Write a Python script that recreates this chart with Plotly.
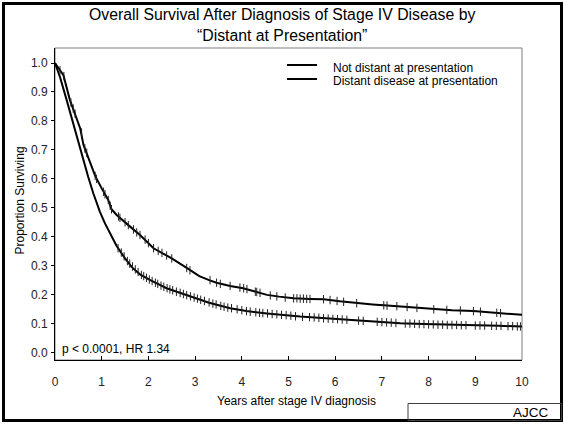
import plotly.graph_objects as go

# ---- Data ----
series_names = ["Not distant at presentation", "Distant disease at presentation"]

upper_t = [0, 0.18, 0.32, 0.39, 0.54, 0.61, 0.75, 0.86, 1.0, 1.14, 1.21, 1.32, 1.57, 1.82,
           2.11, 2.25, 2.5, 2.82, 3.09, 3.3, 3.46, 3.75, 4.03, 4.3, 4.54, 4.8, 5.11, 5.46,
           5.75, 6.1, 6.46, 6.8, 7.04, 7.3, 7.61, 7.9, 8.11, 8.5, 8.96, 9.2, 9.46, 9.75, 10]
upper_s = [1.0, 0.958, 0.872, 0.843, 0.774, 0.717, 0.653, 0.61, 0.567, 0.527, 0.495, 0.475,
           0.44, 0.406, 0.36, 0.348, 0.325, 0.292, 0.264, 0.25, 0.241, 0.23, 0.222, 0.21, 0.199,
           0.193, 0.187, 0.185, 0.184, 0.177, 0.17, 0.166, 0.163, 0.16, 0.156, 0.152, 0.149,
           0.146, 0.143, 0.14, 0.137, 0.133, 0.13]

lower_t = [0, 0.11, 0.25, 0.39, 0.5, 0.61, 0.71, 0.82, 0.96, 1.07, 1.21, 1.32, 1.5, 1.65,
           1.82, 2.04, 2.39, 2.7, 2.96, 3.3, 3.75, 4.1, 4.54, 4.9, 5.25, 5.8, 6.32, 6.9, 7.39,
           7.9, 8.46, 9.0, 9.5, 10]
lower_s = [1.0, 0.95, 0.872, 0.79, 0.723, 0.665, 0.607, 0.55, 0.487, 0.446, 0.4, 0.368, 0.325,
           0.294, 0.27, 0.25, 0.222, 0.205, 0.19, 0.172, 0.153, 0.143, 0.135, 0.129, 0.124,
           0.118, 0.112, 0.106, 0.101, 0.098, 0.095, 0.093, 0.092, 0.09]

# censored observations (+ marks)
upper_cens_t = [0.107, 0.19, 0.34, 0.39, 0.43, 0.57, 0.64, 0.68, 0.86, 0.89, 1.04, 1.07, 1.14,
                1.18, 1.21, 1.36, 1.39, 1.5, 1.57, 1.68, 1.75, 1.82, 1.93, 2.0, 2.11, 2.21,
                2.29, 2.39, 2.5, 2.82, 2.89, 3.32, 3.46, 3.54, 3.75, 3.96, 4.04, 4.11, 4.29,
                4.32, 4.39, 4.61, 4.75, 4.93, 5.11, 5.18, 5.25, 5.32, 5.39, 5.46, 5.75, 5.89,
                6.04, 6.18, 6.46, 7.04, 7.11, 7.32, 7.54, 7.75, 8.11, 8.39, 8.68, 8.96, 9.11,
                9.46, 9.54]
upper_cens_s = [0.975, 0.955, 0.864, 0.843, 0.825, 0.76, 0.705, 0.69, 0.61, 0.6, 0.555, 0.547,
                0.527, 0.507, 0.495, 0.47, 0.465, 0.45, 0.44, 0.425, 0.415, 0.406, 0.39, 0.378,
                0.36, 0.351, 0.344, 0.335, 0.325, 0.292, 0.284, 0.25, 0.241, 0.237, 0.23,
                0.224, 0.222, 0.219, 0.21, 0.209, 0.206, 0.197, 0.194, 0.19, 0.187, 0.187,
                0.186, 0.186, 0.185, 0.185, 0.184, 0.181, 0.178, 0.175, 0.17, 0.163, 0.162,
                0.16, 0.157, 0.154, 0.149, 0.147, 0.145, 0.143, 0.141, 0.137, 0.136]

lower_cens_t = [1.35, 1.42, 1.48, 1.55, 1.6, 1.66, 1.72, 1.78, 1.85, 1.9, 1.96, 2.02, 2.08,
                2.15, 2.2, 2.27, 2.33, 2.4, 2.46, 2.52, 2.6, 2.68, 2.75, 2.82, 2.9, 2.98, 3.05,
                3.12, 3.2, 3.3, 3.38, 3.45, 3.55, 3.62, 3.7, 3.78, 3.9, 4.0, 4.1, 4.18, 4.3,
                4.38, 4.45, 4.55, 4.65, 4.75, 4.85, 4.95, 5.05, 5.15, 5.3, 5.45, 5.55, 5.65,
                5.75, 5.85, 5.95, 6.05, 6.15, 6.25, 6.5, 6.6, 6.9, 7.0, 7.1, 7.2, 7.3, 7.5,
                7.6, 7.7, 7.8, 7.9, 8.0, 8.1, 8.2, 8.3, 8.4, 8.5, 8.6, 8.7, 8.8, 9.0, 9.1,
                9.2, 9.35, 9.45, 9.55, 9.7, 9.8, 9.9, 9.97]
lower_cens_s = [0.36, 0.345, 0.332, 0.316, 0.307, 0.297, 0.287, 0.278, 0.268, 0.264, 0.258,
                0.252, 0.247, 0.241, 0.237, 0.231, 0.227, 0.222, 0.218, 0.215, 0.21, 0.206,
                0.202, 0.198, 0.194, 0.19, 0.186, 0.182, 0.178, 0.173, 0.169, 0.166, 0.161,
                0.158, 0.155, 0.153, 0.149, 0.146, 0.143, 0.141, 0.139, 0.137, 0.136, 0.135,
                0.133, 0.132, 0.13, 0.129, 0.127, 0.125, 0.123, 0.122, 0.121, 0.12, 0.118,
                0.117, 0.116, 0.115, 0.114, 0.113, 0.11, 0.109, 0.106, 0.105, 0.104, 0.103,
                0.102, 0.1, 0.1, 0.099, 0.098, 0.098, 0.097, 0.097, 0.096, 0.096, 0.095,
                0.095, 0.095, 0.094, 0.094, 0.093, 0.093, 0.093, 0.092, 0.092, 0.092, 0.091,
                0.091, 0.09, 0.09]

x_ticks = list(range(0, 11))
y_ticks = [i / 10 for i in range(0, 11)]

title_text = "Overall Survival After Diagnosis of Stage IV Disease by<br>\u201cDistant at Presentation\u201d"
stat_text = "p < 0.0001, HR 1.34"
x_title = "Years after stage IV diagnosis"
y_title = "Proportion Surviving"
source_text = "AJCC"

# ---- Figure ----
FONT = "Arial, Liberation Sans, sans-serif"
FS = 12
W, H = 564, 424
L, R, T, B = 55, 42, 48, 64
PW, PH = W - L - R, H - T - B


def px(xp):
    return (xp - L) / PW


def py(yp):
    return (H - B - yp) / PH


fig = go.Figure()
for t, s in [(upper_t, upper_s), (lower_t, lower_s)]:
    fig.add_trace(go.Scatter(x=t, y=s, mode="lines", line=dict(color="black", width=2),
                             showlegend=False, hoverinfo="skip"))
for t, s in [(upper_cens_t, upper_cens_s), (lower_cens_t, lower_cens_s)]:
    fig.add_trace(go.Scatter(x=t, y=s, mode="markers",
                             marker=dict(symbol="line-ns-open", size=6, color="#222",
                                         line=dict(color="#222", width=1)),
                             showlegend=False, hoverinfo="skip"))

shapes = [
    dict(type="rect", xref="paper", yref="paper", x0=0, x1=1, y0=0, y1=1,
         line=dict(color="#7f7f7f", width=1), layer="below"),
    dict(type="rect", xref="paper", yref="paper", x0=px(3.5), x1=px(561.5),
         y0=py(420.5), y1=py(3.5), line=dict(color="black", width=3)),
    dict(type="rect", xref="paper", yref="paper", x0=px(408), x1=px(561.5),
         y0=py(420.5), y1=py(403.5), line=dict(color="#404040", width=1)),
    dict(type="line", xref="paper", yref="paper", x0=px(287), x1=px(317),
         y0=py(65), y1=py(65), line=dict(color="black", width=2)),
    dict(type="line", xref="paper", yref="paper", x0=px(287), x1=px(317),
         y0=py(79), y1=py(79), line=dict(color="black", width=2)),
]

annotations = [
    dict(text=title_text, xref="paper", yref="paper", x=px(282), y=py(25),
         xanchor="center", yanchor="middle", showarrow=False,
         font=dict(family=FONT, size=15.8, color="black")),
    dict(text=series_names[0], xref="paper", yref="paper", x=px(331), y=py(67.5),
         xanchor="left", yanchor="middle", showarrow=False,
         font=dict(family=FONT, size=FS, color="black")),
    dict(text=series_names[1], xref="paper", yref="paper", x=px(331), y=py(81),
         xanchor="left", yanchor="middle", showarrow=False,
         font=dict(family=FONT, size=FS, color="black")),
    dict(text=stat_text, xref="paper", yref="paper", x=px(60), y=py(348.5),
         xanchor="left", yanchor="middle", showarrow=False,
         font=dict(family=FONT, size=FS, color="black")),
    dict(text=x_title, xref="paper", yref="paper", x=px(296.5), y=py(401),
         xanchor="center", yanchor="middle", showarrow=False,
         font=dict(family=FONT, size=FS, color="black")),
    dict(text=y_title, xref="paper", yref="paper", x=px(19.5), y=py(201),
         xanchor="center", yanchor="middle", showarrow=False, textangle=-90,
         font=dict(family=FONT, size=FS, color="black")),
    dict(text=source_text, xref="paper", yref="paper", x=px(551), y=py(412),
         xanchor="right", yanchor="middle", showarrow=False,
         font=dict(family=FONT, size=13.5, color="black")),
]

fig.update_layout(
    width=W, height=H,
    margin=dict(l=L, r=R, t=T, b=B, pad=0),
    paper_bgcolor="white", plot_bgcolor="white",
    showlegend=False,
    shapes=shapes, annotations=annotations,
    font=dict(family=FONT, size=FS, color="#222"),
    xaxis=dict(range=[0, 10], tickvals=x_ticks, ticktext=[str(v) for v in x_ticks],
               ticks="inside", ticklen=4, tickcolor="black", showgrid=False, zeroline=False,
               showline=True, linecolor="black", linewidth=1, ticklabelstandoff=11,
               tickfont=dict(family=FONT, size=FS, color="#222")),
    yaxis=dict(range=[-0.026, 1.052], tickvals=y_ticks, ticktext=[f"{v:.1f}" for v in y_ticks],
               ticks="outside", ticklen=3, tickcolor="black", showgrid=False, zeroline=False,
               showline=True, linecolor="black", linewidth=1, ticklabelstandoff=1,
               tickfont=dict(family=FONT, size=FS, color="#222")),
)

fig.write_html("out.html")
